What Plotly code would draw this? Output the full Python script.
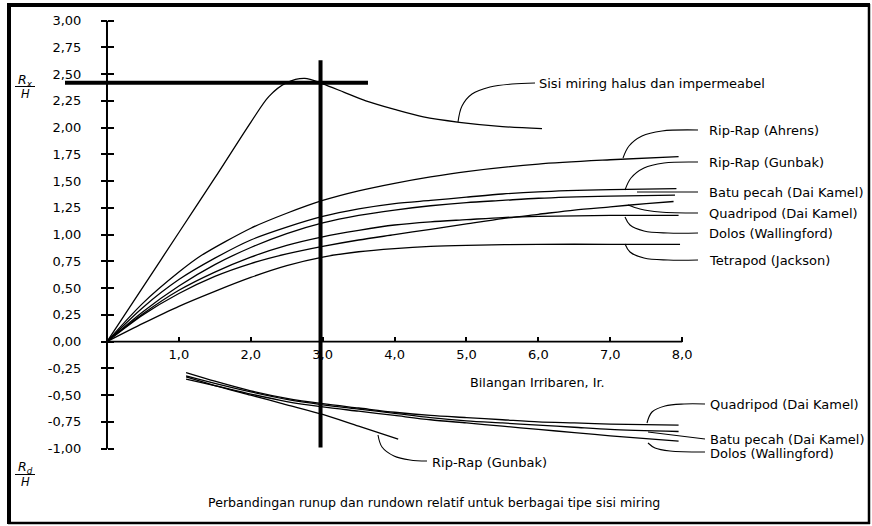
import plotly.graph_objects as go

# ---------------- data ----------------
smooth_x = [0, 0.5, 1.0, 1.5, 2.0, 2.25, 2.5, 2.75, 3.0, 3.3, 3.6, 4.0, 4.4, 4.9, 5.5, 6.05]
smooth_y = [0, 0.51, 1.02, 1.53, 2.05, 2.29, 2.42, 2.46, 2.41, 2.33, 2.25, 2.17, 2.10, 2.05, 2.01, 1.99]

ahrens_x = [0, 0.5, 1.0, 1.3, 2.0, 2.5, 3.0, 3.5, 4.0, 4.5, 5.0, 6.0, 7.0, 7.95]
ahrens_y = [0, 0.36, 0.65, 0.80, 1.06, 1.20, 1.32, 1.41, 1.48, 1.54, 1.59, 1.66, 1.70, 1.73]

gunbak_x = [0, 0.5, 1.0, 1.5, 2.0, 2.5, 3.0, 3.5, 4.0, 4.5, 5.0, 5.5, 6.0, 7.0, 7.92]
gunbak_y = [0, 0.32, 0.58, 0.78, 0.95, 1.07, 1.17, 1.24, 1.29, 1.32, 1.35, 1.38, 1.40, 1.42, 1.43]

batu_x = [0, 0.5, 1.0, 1.5, 2.0, 2.5, 3.0, 3.5, 4.0, 4.5, 5.0, 5.5, 6.0, 7.0, 7.9]
batu_y = [0, 0.28, 0.52, 0.72, 0.88, 1.01, 1.11, 1.18, 1.23, 1.27, 1.30, 1.32, 1.34, 1.36, 1.37]

quad_x = [0, 0.5, 1.0, 1.5, 2.0, 2.5, 3.0, 3.5, 4.0, 4.5, 5.0, 5.5, 6.0, 6.5, 7.0, 7.5, 7.88]
quad_y = [0, 0.25, 0.45, 0.61, 0.73, 0.82, 0.89, 0.95, 1.00, 1.05, 1.10, 1.15, 1.19, 1.23, 1.26, 1.29, 1.31]

dolos_x = [0, 0.5, 1.0, 1.5, 2.0, 2.5, 3.0, 3.5, 4.0, 4.5, 5.0, 5.5, 6.0, 7.0, 7.95]
dolos_y = [0, 0.26, 0.48, 0.65, 0.79, 0.90, 0.98, 1.04, 1.09, 1.12, 1.14, 1.16, 1.17, 1.18, 1.18]

tetra_x = [0, 0.5, 1.0, 1.5, 2.0, 2.5, 3.0, 3.5, 4.0, 4.5, 5.0, 6.0, 7.0, 7.97]
tetra_y = [0, 0.17, 0.33, 0.47, 0.60, 0.71, 0.79, 0.84, 0.87, 0.89, 0.90, 0.91, 0.91, 0.91]

# rundown
rd_x = [1.1, 1.5, 2.0, 2.5, 3.0, 3.5, 4.0, 4.5, 5.0, 5.5, 6.0, 6.5, 7.0, 7.95]
rd_quad_y = [-0.29, -0.37, -0.46, -0.53, -0.58, -0.62, -0.66, -0.69, -0.71, -0.73, -0.75, -0.76, -0.77, -0.78]
rd_batu_y = [-0.32, -0.39, -0.47, -0.54, -0.59, -0.63, -0.67, -0.71, -0.74, -0.76, -0.78, -0.80, -0.82, -0.84]
rd_dolos_y = [-0.35, -0.41, -0.49, -0.56, -0.61, -0.65, -0.69, -0.73, -0.76, -0.79, -0.82, -0.85, -0.88, -0.93]
rd_gunbak_x = [1.1, 1.5, 2.0, 2.5, 3.0, 3.5, 4.05]
rd_gunbak_y = [-0.33, -0.41, -0.50, -0.59, -0.68, -0.79, -0.91]

# reading lines (Ir = 2.97, Ru/H = 2.42)
read_x = 2.97
read_y = 2.42

x_ticks = [1, 2, 3, 4, 5, 6, 7, 8]
x_labels = ["1,0", "2,0", "3,0", "4,0", "5,0", "6,0", "7,0", "8,0"]
y_ticks = [3.0, 2.75, 2.5, 2.25, 2.0, 1.75, 1.5, 1.25, 1.0, 0.75, 0.5, 0.25, 0.0,
           -0.25, -0.5, -0.75, -1.0]
y_labels = ["3,00", "2,75", "2,50", "2,25", "2,00", "1,75", "1,50", "1,25", "1,00",
            "0,75", "0,50", "0,25", "0,00", "-0,25", "-0,50", "-0,75", "-1,00"]

# ---------------- layout helpers ----------------
W, H = 872, 526
X0, X1 = -1.488, 10.64
Y0, Y1 = -1.723, 3.193


def px(x):
    return X0 + (x / W) * (X1 - X0)


def py(y):
    return Y1 - (y / H) * (Y1 - Y0)


FONT = "DejaVu Sans"
fig = go.Figure()

LW = 1.3


def curve(xs, ys):
    fig.add_trace(go.Scatter(x=xs, y=ys, mode="lines",
                             line=dict(color="black", width=LW, shape="spline", smoothing=0.8),
                             hoverinfo="skip", showlegend=False))


for xs, ys in [(smooth_x, smooth_y), (ahrens_x, ahrens_y), (gunbak_x, gunbak_y), (batu_x, batu_y),
               (quad_x, quad_y), (dolos_x, dolos_y), (tetra_x, tetra_y),
               (rd_x, rd_quad_y), (rd_x, rd_batu_y), (rd_x, rd_dolos_y), (rd_gunbak_x, rd_gunbak_y)]:
    curve(xs, ys)

# leaders (pixel geometry) and labels
leaders = [
    ([(458, 122), (462, 106), (472, 94), (490, 87), (512, 84), (535, 83)], "Sisi miring halus dan impermeabel", 537, 83),
    ([(623, 158), (629, 146), (642, 136), (662, 131), (698, 130)], "Rip-Rap (Ahrens)", 707, 130),
    ([(625, 190), (631, 178), (644, 168), (664, 163), (698, 162)], "Rip-Rap (Gunbak)", 707, 162),
    ([(637, 192), (698, 192)], "Batu pecah (Dai Kamel)", 707, 192),
    ([(628, 205), (640, 209), (660, 212), (698, 213)], "Quadripod (Dai Kamel)", 707, 213),
    ([(625, 217), (630, 225), (644, 231), (668, 233), (698, 233)], "Dolos (Wallingford)", 707, 233),
    ([(625, 244), (630, 252), (644, 258), (668, 260), (698, 260)], "Tetrapod (Jackson)", 707, 260),
    ([(647, 423), (652, 412), (665, 406), (684, 404), (705, 404)], "Quadripod (Dai Kamel)", 708, 404),
    ([(648, 432), (705, 439)], "Batu pecah (Dai Kamel)", 708, 439),
    ([(648, 443), (655, 448), (670, 451), (705, 452)], "Dolos (Wallingford)", 708, 453),
    ([(378, 435), (382, 447), (394, 456), (410, 460), (427, 461)], "Rip-Rap (Gunbak)", 430, 462),
]

for pts, text, lx, ly in leaders:
    fig.add_trace(go.Scatter(x=[px(p[0]) for p in pts], y=[py(p[1]) for p in pts], mode="lines",
                             line=dict(color="black", width=1.1, shape="spline"), hoverinfo="skip",
                             showlegend=False))
    fig.add_annotation(x=px(lx), y=py(ly), text=text, showarrow=False, xanchor="left", yanchor="middle",
                       font=dict(family=FONT, size=13, color="black"))

# axes lines
fig.add_shape(type="line", x0=0, x1=0, y0=-1.0, y1=3.0, line=dict(color="black", width=2))
fig.add_shape(type="line", x0=0, x1=8, y0=0, y1=0, line=dict(color="black", width=1.8))
# reading cross lines
fig.add_shape(type="line", x0=px(65), x1=3.63, y0=read_y, y1=read_y, line=dict(color="black", width=4))
fig.add_shape(type="line", x0=read_x, x1=read_x, y0=-0.99, y1=2.63, line=dict(color="black", width=4))

# frame
fig.add_shape(type="line", xref="paper", yref="paper", x0=9 / W, x1=9 / W, y0=1 - 3 / H, y1=1 - 524 / H,
              line=dict(color="black", width=4))
fig.add_shape(type="line", xref="paper", yref="paper", x0=7 / W, x1=870 / W, y0=1 - 5 / H, y1=1 - 5 / H,
              line=dict(color="black", width=4))
fig.add_shape(type="line", xref="paper", yref="paper", x0=869 / W, x1=869 / W, y0=1 - 4 / H, y1=1 - 524 / H,
              line=dict(color="black", width=2.5))
fig.add_shape(type="line", xref="paper", yref="paper", x0=8 / W, x1=870 / W, y0=1 - 523 / H, y1=1 - 523 / H,
              line=dict(color="black", width=2.5))

# axis titles (fraction labels)
for top, sub, yb in [(80, "x", 86.5), (467, "d", 474.5)]:
    fig.add_annotation(x=px(25), y=py(top), text="<i>R<sub>" + sub + "</sub></i>", showarrow=False,
                       font=dict(family=FONT, size=12.5, color="black"), xanchor="center", yanchor="middle")
    fig.add_shape(type="line", xref="paper", yref="paper", x0=15 / W, x1=35 / W, y0=1 - yb / H, y1=1 - yb / H,
                  line=dict(color="black", width=1))
    fig.add_annotation(x=px(25), y=py(yb + 7), text="<i>H</i>", showarrow=False,
                       font=dict(family=FONT, size=11.5, color="black"), xanchor="center", yanchor="middle")

fig.add_annotation(x=px(537), y=py(382), text="Bilangan Irribaren, Ir.", showarrow=False,
                   font=dict(family=FONT, size=12.8, color="black"), xanchor="center", yanchor="middle")
fig.add_annotation(x=px(434), y=py(502),
                   text="Perbandingan runup dan rundown relatif untuk berbagai tipe sisi miring",
                   showarrow=False, font=dict(family=FONT, size=12.6, color="black"), xanchor="center",
                   yanchor="middle")

# invisible trace for overlay axis
fig.add_trace(go.Scatter(x=[0], y=[0], yaxis="y2", mode="markers", marker=dict(opacity=0), hoverinfo="skip",
                         showlegend=False))

tickfont = dict(family=FONT, size=13, color="black")
fig.update_layout(
    width=W, height=H, margin=dict(l=0, r=0, t=0, b=0), paper_bgcolor="white", plot_bgcolor="white",
    showlegend=False,
    xaxis=dict(range=[X0, X1], anchor="free", position=1.723 / 4.916, tickmode="array", tickvals=x_ticks,
               ticktext=x_labels, ticks="inside", ticklen=5, tickwidth=1.5, tickcolor="black",
               showline=False, showgrid=False, zeroline=False, tickfont=tickfont, ticklabelstandoff=3,
               fixedrange=True),
    yaxis=dict(range=[Y0, Y1], anchor="free", position=1.488 / 12.128, tickmode="array", tickvals=y_ticks,
               ticktext=y_labels, ticks="outside", ticklen=6, tickwidth=1.5, tickcolor="black",
               showline=False, showgrid=False, zeroline=False, tickfont=tickfont, ticklabelstandoff=17,
               fixedrange=True),
    yaxis2=dict(range=[Y0, Y1], overlaying="y", anchor="free", position=1.488 / 12.128, side="left",
                tickmode="array", tickvals=y_ticks, ticks="inside", ticklen=6, tickwidth=1.5, tickcolor="black",
                showticklabels=False, showline=False, showgrid=False, zeroline=False, fixedrange=True),
)

fig.write_html("out.html", config={"displayModeBar": False},
               post_script="document.body.style.margin='0';document.body.style.overflow='hidden';")
